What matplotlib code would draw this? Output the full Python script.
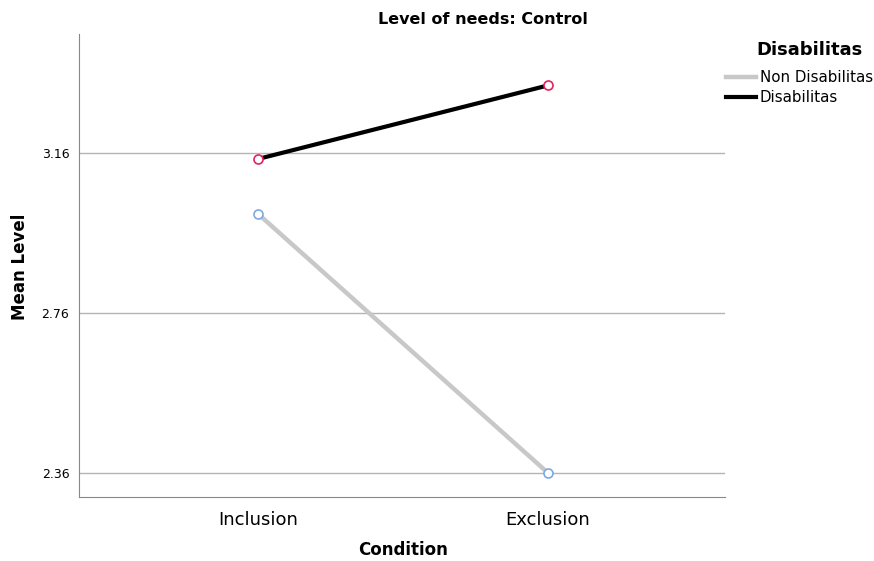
import matplotlib.pyplot as plt
import numpy as np

# mean levels
conditions = ['Inclusion', 'Exclusion']
non_disabilitas = [3.008, 2.36]
disabilitas = [3.145, 3.329]
yticks = [2.36, 2.76, 3.16]

fig = plt.figure(figsize=(8.74, 5.61), dpi=100)
ax = fig.add_axes([79/874, 1 - 497/561, (725-79)/874, (497-34)/561])

x = np.arange(len(conditions))
ax.plot(x, non_disabilitas, color='#c8c8c8', lw=3.2, label='Non Disabilitas', zorder=3)
ax.plot(x, disabilitas, color='black', lw=3.0, label='Disabilitas', zorder=3)
ax.plot(x, non_disabilitas, 'o', ms=6.5, mfc='white', mec='#7fa8e0', mew=1.2, zorder=4)
ax.plot(x, disabilitas, 'o', ms=6.5, mfc='white', mec='#e0245e', mew=1.2, zorder=4)

ax.set_xlim(-0.617, 1.61)
ax.set_ylim(2.30, 3.4575)
ax.set_xticks(x)
ax.set_xticklabels(conditions, fontsize=13)
ax.set_yticks(yticks)
ax.set_yticklabels(['%.2f' % v for v in yticks], fontsize=9)
ax.tick_params(axis='both', length=0)
ax.tick_params(axis='y', pad=7)
ax.tick_params(axis='x', pad=10)
ax.yaxis.grid(True, color='#b4b4b4', lw=1)
ax.set_axisbelow(True)
for s in ['top', 'right']:
    ax.spines[s].set_visible(False)
for s in ['left', 'bottom']:
    ax.spines[s].set_color('#888888')

fig.text(483/874, 1 - 20/561, 'Level of needs: Control', ha='center', va='center',
         fontsize=11.5, fontweight='bold')
fig.text(20/874, 1 - 267/561, 'Mean Level', rotation=90, ha='center', va='center',
         fontsize=12, fontweight='bold')
fig.text(403/874, 1 - 550/561, 'Condition', ha='center', va='center',
         fontsize=12, fontweight='bold')

# legend title drawn separately so the gap matches
fig.text(810/874, 1 - 50/561, 'Disabilitas', ha='center', va='center',
         fontsize=13, fontweight='bold')
leg = ax.legend(loc='upper left', bbox_to_anchor=(726/874, 1 - 70/561),
                bbox_transform=fig.transFigure, frameon=False,
                fontsize=10.8, handlelength=2.0, handletextpad=0.25, labelspacing=0.32,
                borderaxespad=0, borderpad=0)

fig.savefig('out.png')
